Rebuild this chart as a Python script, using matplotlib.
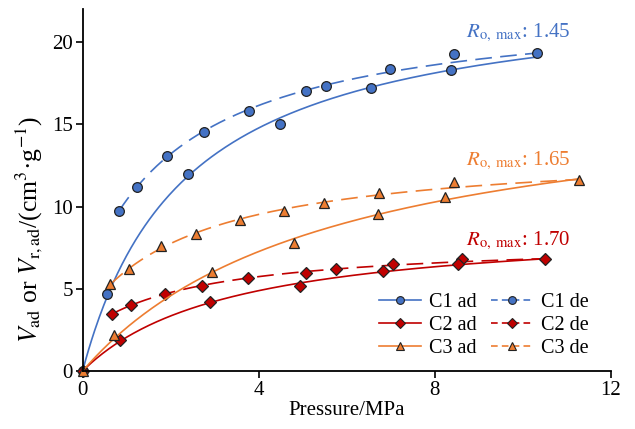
import matplotlib
matplotlib.use("Agg")
import matplotlib.pyplot as plt
import numpy as np

plt.rcParams['font.family'] = ['Liberation Serif', 'DejaVu Serif']
plt.rcParams['mathtext.fontset'] = 'stix'

# pressure (MPa) / volume (cm3/g)
c1_ad_p = [0, 0.56, 2.40, 4.48, 6.56, 8.38, 10.32]
c1_ad_v = [0, 4.71, 11.98, 15.01, 17.19, 18.30, 19.32]
c1_de_p = [0.83, 1.23, 1.92, 2.76, 3.77, 5.07, 5.54, 6.98, 8.43]
c1_de_v = [9.72, 11.21, 13.07, 14.50, 15.82, 16.99, 17.35, 18.35, 19.25]

c2_ad_p = [0, 0.84, 2.89, 4.94, 6.83, 8.53, 10.50]
c2_ad_v = [0, 1.88, 4.18, 5.17, 6.08, 6.52, 6.83]
c2_de_p = [0.68, 1.11, 1.87, 2.72, 3.75, 5.07, 5.75, 7.05, 8.62]
c2_de_v = [3.49, 4.00, 4.71, 5.17, 5.66, 5.98, 6.20, 6.48, 6.83]

c3_ad_p = [0, 0.72, 2.93, 4.81, 6.71, 8.24, 11.27]
c3_ad_v = [0, 2.18, 6.02, 7.78, 9.56, 10.56, 11.64]
c3_de_p = [0.63, 1.05, 1.79, 2.58, 3.57, 4.57, 5.49, 6.74, 8.43]
c3_de_v = [5.27, 6.18, 7.60, 8.34, 9.19, 9.72, 10.22, 10.81, 11.47]

r_max = ['1.45', '1.70', '1.65']

blue = '#4472C4'
red = '#C00000'
orange = '#ED7D31'


def langmuir(p, v):
    # least squares Langmuir fit through origin, grid over b
    p = np.asarray(p, float)
    v = np.asarray(v, float)
    best = None
    for b in np.linspace(0.01, 3, 3000):
        f = b * p / (1 + b * p)
        vm = f @ v / (f @ f)
        err = ((vm * f - v) ** 2).sum()
        if best is None or err < best[0]:
            best = (err, vm, b)
    return best[1], best[2]


def ad_curve(p, v):
    vm, b = langmuir(p, v)
    x = np.linspace(0, max(p), 300)
    return x, vm * b * x / (1 + b * x)


def de_curve(p, v, pmax, vmax):
    # offset Langmuir, last point (max pressure) weighted heavily
    p = np.append(p, pmax)
    v = np.append(v, vmax)
    w = np.ones_like(p)
    w[-1] = 10
    best = None
    for b in np.linspace(0.02, 5, 2500):
        f = b * p / (1 + b * p)
        A = np.column_stack([np.ones_like(p), f]) * w[:, None]
        coef, *_ = np.linalg.lstsq(A, v * w, rcond=None)
        err = ((A @ coef - v * w) ** 2).sum()
        if best is None or err < best[0]:
            best = (err, coef, b)
    _, (v0, vm), b = best
    x = np.linspace(p[0], pmax, 300)
    return x, v0 + vm * b * x / (1 + b * x)


fig = plt.figure(figsize=(6.35, 4.29), dpi=100)
ax = fig.add_axes([0.130, 0.135, 0.832, 0.844])

series = [
    ('C1', c1_ad_p, c1_ad_v, c1_de_p, c1_de_v, blue, 'o', 7.0),
    ('C2', c2_ad_p, c2_ad_v, c2_de_p, c2_de_v, red, 'D', 5.8),
    ('C3', c3_ad_p, c3_ad_v, c3_de_p, c3_de_v, orange, '^', 7.5),
]

ad_handles = []
de_handles = []
for name, ap, av, dp, dv, col, mk, ms in series:
    x, y = ad_curve(ap, av)
    ax.plot(x, y, color=col, lw=1.2, clip_on=False)
    x, y = de_curve(dp, dv, ap[-1], av[-1])
    ax.plot(x, y, color=col, lw=1.2, dashes=(10, 5))
    ax.plot(dp, dv, ls='none', marker=mk, ms=ms, mfc=col, mec='#222222',
            mew=0.9, clip_on=False)
    ax.plot(ap, av, ls='none', marker=mk, ms=ms, mfc=col, mec='#222222',
            mew=0.9, clip_on=False)
    h1, = ax.plot([], [], color=col, lw=1.2, marker=mk, ms=ms * 0.8,
                  mfc=col, mec='#222222', mew=0.8)
    h2, = ax.plot([], [], color=col, lw=1.2, dashes=(4, 2.5), marker=mk,
                  ms=ms * 0.8, mfc=col, mec='#222222', mew=0.8)
    ad_handles.append((h1, name + ' ad'))
    de_handles.append((h2, name + ' de'))

# R_o,max labels
lab = r'$R_{\mathrm{o,\ max}}$: '
ax.text(8.72, 20.3, lab + r_max[0], color=blue, fontsize=15, va='baseline')
ax.text(8.72, 12.5, lab + r_max[2], color=orange, fontsize=15, va='baseline')
ax.text(8.72, 7.65, lab + r_max[1], color=red, fontsize=15, va='baseline')

hs = [h for h, _ in ad_handles + de_handles]
ls = [l for _, l in ad_handles + de_handles]
ax.legend(hs, ls, ncol=2, frameon=False, fontsize=14.5, loc='lower right',
          bbox_to_anchor=(0.958, 0.035), handlelength=2.1, handletextpad=0.4,
          columnspacing=0.7, labelspacing=0.2, borderpad=0, borderaxespad=0)

ax.set_xlim(0, 12)
ax.set_ylim(0, 22)
ax.set_xticks([0, 4, 8, 12])
ax.set_yticks([0, 5, 10, 15, 20])
for s in ['top', 'right']:
    ax.spines[s].set_visible(False)
for s in ['left', 'bottom']:
    ax.spines[s].set_linewidth(1.3)
ax.tick_params(direction='out', length=5, width=1.2, labelsize=15, pad=2)

ax.set_xlabel('Pressure/MPa', fontsize=15, labelpad=1)
ax.set_ylabel(r'$V_{\mathrm{ad}}$ or $V_{\mathrm{r,ad}}$/(cm$^{3}$·g$^{-1}$)',
              fontsize=18.5)
ax.yaxis.set_label_coords(-0.072, 0.392)

fig.savefig('out.png', dpi=100)
